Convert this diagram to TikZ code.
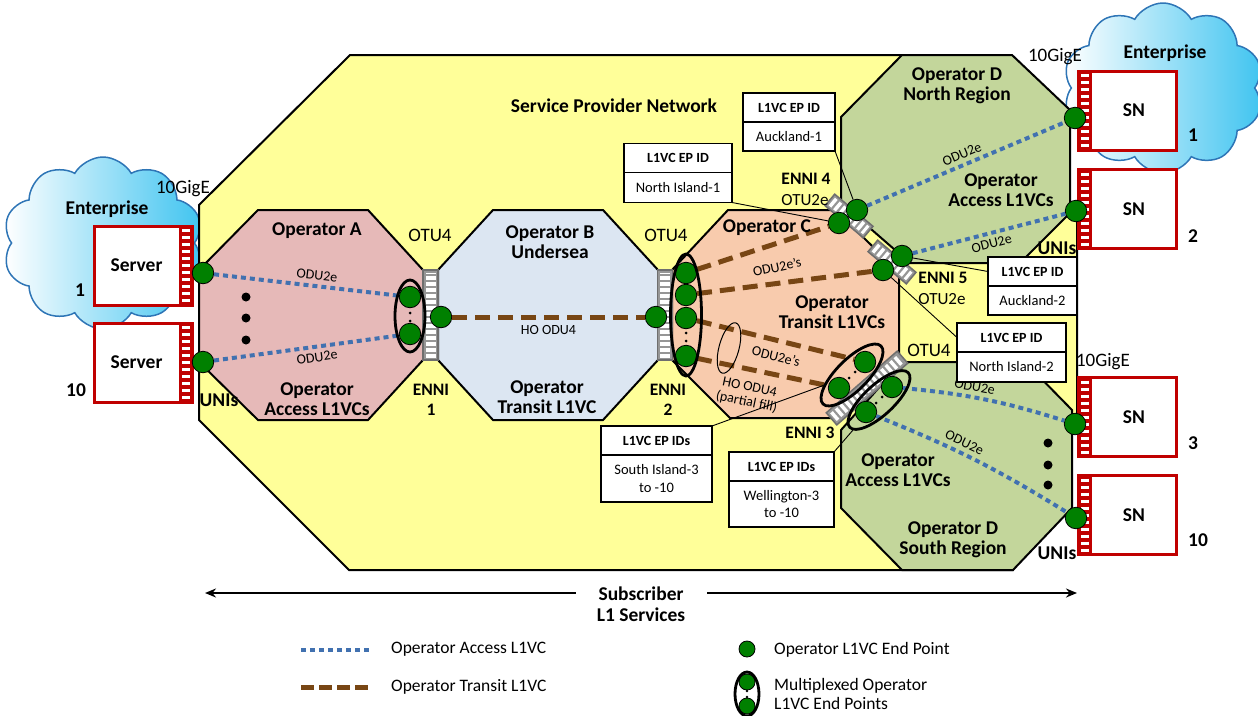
\documentclass[tikz,border=0pt]{standalone}
\usepackage{fontspec}
\setmainfont{Carlito}
\usepackage{tikz}
\usetikzlibrary{arrows.meta,shapes,positioning}
\definecolor{spyellow}{RGB}{255,255,153}
\definecolor{opapink}{RGB}{230,185,184}
\definecolor{opbblue}{RGB}{220,230,242}
\definecolor{opcpeach}{RGB}{248,203,173}
\definecolor{opdgreen}{RGB}{195,214,155}
\definecolor{epgreen}{RGB}{0,128,0}
\definecolor{accblue}{RGB}{65,113,176}
\definecolor{trbrown}{RGB}{120,70,20}
\definecolor{devred}{RGB}{192,0,0}
\definecolor{cloudblue}{RGB}{64,196,240}
\definecolor{cloudline}{RGB}{46,117,182}
\definecolor{barfill}{RGB}{150,150,150}
\definecolor{barline}{RGB}{110,110,110}

\begin{document}
\begin{tikzpicture}[x=1pt,y=1pt]
                \tikzstyle{every node}+=[inner sep=0pt]
                \tikzstyle{lbl}=[font=\fontsize{19.5}{20}\selectfont\bfseries, align=center]
                \tikzstyle{txt}=[font=\fontsize{19}{20}\selectfont]
                \tikzstyle{enni}=[font=\fontsize{17.5}{19.5}\selectfont\bfseries, align=center]
                \tikzstyle{odu}=[text=black, font=\fontsize{14}{15}\selectfont, align=center]
                \tikzstyle{idhead}=[draw, line width=1.2pt, fill=white, outer sep=0pt, minimum height=29pt, font=\fontsize{14}{15}\selectfont\bfseries]
                \tikzstyle{idbody}=[draw, line width=1.2pt, fill=white, outer sep=0pt, minimum height=29pt, font=\fontsize{14.5}{17.5}\selectfont, align=center]
                \tikzstyle{legtxt}=[font=\fontsize{17.5}{19}\selectfont, anchor=west, align=left]
                \tikzstyle{ep}=[circle, draw=black, line width=0.8pt, fill=epgreen, minimum size=21.5pt]
                \tikzstyle{access}=[accblue, line width=4pt, dash pattern=on 5pt off 4pt]
                \tikzstyle{transit}=[trbrown, line width=5pt, dash pattern=on 15pt off 8pt]
                \tikzstyle{mux}=[ellipse, draw=black, line width=2.8pt]
                \tikzstyle{region}=[draw=black, line width=2pt]
                \tikzstyle{ennibar}=[draw=barline, fill=barfill, line width=1.5pt, minimum height=15pt, outer sep=0pt]
                \tikzstyle{barstripe}=[white, line width=10pt, dash pattern=on 3.5pt off 2.5pt, shorten <=2.5pt, shorten >=2.5pt]
                \tikzstyle{devbox}=[draw=devred, line width=3pt, fill=white, minimum width=98pt, minimum height=79pt, outer sep=0pt]
                \tikzstyle{ports}=[fill=devred, minimum width=13pt, minimum height=79pt, outer sep=0pt]
                \tikzstyle{portdash}=[white, line width=8pt, dash pattern=on 3pt off 4pt, shorten <=3pt, shorten >=3pt]
                \tikzstyle{leader}=[black, line width=0.9pt]
                \tikzstyle{cloudy}=[cloud, cloud puffs=10, cloud puff arc=120, aspect=1.25, draw=cloudline, line width=1.5pt, left color=white, middle color=cloudblue, right color=cloudblue]
                \tikzstyle{subarrow}=[black, line width=2.2pt, -{Stealth[length=11pt,width=9pt]}]
                \useasboundingbox (0,0) rectangle (1258,-715);
                \node[cloudy, minimum width=200pt, minimum height=172pt] (cloudL) at (103,-243) {};
                \node[cloudy, minimum width=200pt, minimum height=170pt] (cloudR) at (1163,-88) {};
                \filldraw[region, fill=spyellow] (350,-55) -- (1000,-55) -- (1060,-110) -- (1060,-200) -- (1077,-213) -- (1077,-420) -- (1013,-570) -- (349,-570) -- (199,-420) -- (199,-205) -- cycle;
                \filldraw[region, fill=opapink] (258,-210) -- (368,-210) -- (423,-270) -- (423,-360) -- (368,-420) -- (258,-420) -- (199,-362) -- (199,-270) -- cycle;
                \filldraw[region, fill=opbblue] (493,-210) -- (603,-210) -- (658,-270) -- (658,-360) -- (603,-420) -- (493,-420) -- (438,-360) -- (438,-270) -- cycle;
                \filldraw[region, fill=opcpeach] (728,-210) -- (835,-210) -- (899,-272) -- (899,-360) -- (840,-418) -- (730,-418) -- (672,-360) -- (672,-270) -- cycle;
                \filldraw[region, fill=opdgreen] (902,-55) -- (1012,-55) -- (1070,-110) -- (1070,-213) -- (1020,-263) -- (910,-263) -- (841,-203) -- (841,-117) -- cycle;
                \filldraw[region, fill=opdgreen] (902,-362) -- (1025,-362) -- (1072,-410) -- (1072,-508) -- (1013,-570) -- (902,-570) -- (841,-508) -- (841,-430) -- cycle;
                \node[ennibar, rotate=90, minimum width=90pt] (enni1) at (430.5,-315) {};
                \draw[barstripe] (enni1.west) -- (enni1.east);
                \node[ennibar, rotate=90, minimum width=90pt] (enni2) at (665,-315) {};
                \draw[barstripe] (enni2.west) -- (enni2.east);
                \node[ennibar, rotate=-40, minimum width=50pt, minimum height=15pt] (enni4) at (849,-216) {};
                \draw[barstripe] (enni4.west) -- (enni4.east);
                \node[ennibar, rotate=-40, minimum width=50pt, minimum height=15pt] (enni5) at (892,-262) {};
                \draw[barstripe] (enni5.west) -- (enni5.east);
                \node[ennibar, rotate=41, minimum width=94pt, minimum height=16pt] (enni3) at (867,-388) {};
                \draw[barstripe] (enni3.west) -- (enni3.east);
                \node[devbox] (server1) at (143,-265.5) {};
                \node[ports, anchor=north east] (ports1) at (server1.north east) {};
                \draw[portdash] (ports1.north) -- (ports1.south);
                \node[lbl] (srv1txt) at ([xshift=-6.5pt]server1.center) {Server};
                \node[devbox] (server10) at (143,-362.5) {};
                \node[ports, anchor=north east] (ports10) at (server10.north east) {};
                \draw[portdash] (ports10.north) -- (ports10.south);
                \node[lbl] (srv10txt) at ([xshift=-6.5pt]server10.center) {Server};
                \node[devbox] (sn1) at (1127.5,-110.5) {};
                \node[ports, anchor=north west] (portsn1) at (sn1.north west) {};
                \draw[portdash] (portsn1.north) -- (portsn1.south);
                \node[lbl] (sn1txt) at ([xshift=6.5pt]sn1.center) {SN};
                \node[devbox] (sn2) at (1127.5,-209) {};
                \node[ports, anchor=north west] (portsn2) at (sn2.north west) {};
                \draw[portdash] (portsn2.north) -- (portsn2.south);
                \node[lbl] (sn2txt) at ([xshift=6.5pt]sn2.center) {SN};
                \node[devbox] (sn3) at (1127.5,-417) {};
                \node[ports, anchor=north west] (portsn3) at (sn3.north west) {};
                \draw[portdash] (portsn3.north) -- (portsn3.south);
                \node[lbl] (sn3txt) at ([xshift=6.5pt]sn3.center) {SN};
                \node[devbox] (sn10) at (1127.5,-515) {};
                \node[ports, anchor=north west] (portsn10) at (sn10.north west) {};
                \draw[portdash] (portsn10.north) -- (portsn10.south);
                \node[lbl] (sn10txt) at ([xshift=6.5pt]sn10.center) {SN};
                \node[ep] (epS1) at (203,-273) {};
                \node[ep] (epS10) at (203,-362) {};
                \node[ep] (epA1) at (410,-297) {};
                \node[ep] (epA2) at (410,-334) {};
                \node[ep] (epB1) at (441,-317) {};
                \node[ep] (epB2) at (656,-317) {};
                \node[ep] (epC1) at (686,-273) {};
                \node[ep] (epC2) at (686,-295) {};
                \node[ep] (epC3) at (686,-318) {};
                \node[ep] (epC4) at (686,-356) {};
                \node[ep] (epC4n) at (839,-223) {};
                \node[ep] (epD4n) at (857,-210) {};
                \node[ep] (epC5) at (883,-270) {};
                \node[ep] (epD5) at (902,-256) {};
                \node[ep] (epC3a) at (865,-362) {};
                \node[ep] (epC3b) at (839,-388) {};
                \node[ep] (epD3a) at (892,-387) {};
                \node[ep] (epD3b) at (866,-412) {};
                \node[ep] (epSN1) at (1075,-118) {};
                \node[ep] (epSN2) at (1076,-211) {};
                \node[ep] (epSN3) at (1075,-424) {};
                \node[ep] (epSN10) at (1076,-518) {};
                \draw[access] (epS1) -- node[odu, sloped, above=4pt, pos=0.55] (oduA1) {ODU2e} (epA1);
                \draw[access] (epS10) -- node[odu, sloped, below=4pt, pos=0.55] (oduA2) {ODU2e} (epA2);
                \draw[transit] (epB1) -- node[odu, below=6pt] (hoB) {HO ODU4} (epB2);
                \draw[transit] (epC1) -- (epC4n);
                \draw[transit] (epC2) -- (epC5);
                \draw[transit] (epC3) -- (epC3a);
                \draw[transit] (epC4) -- (epC3b);
                \node[odu, rotate=12] (oduC1) at (777,-267) {ODU2e’s};
                \node[odu, rotate=-14] (oduC2) at (776,-356) {ODU2e’s};
                \node[odu, rotate=-12] (hoC) at (748,-395) {HO ODU4\\(partial fill)};
                \draw[access] (epD4n) -- node[odu, sloped, above=4pt] (oduDn1) {ODU2e} (epSN1);
                \draw[access] (epD5) -- node[odu, sloped, below=4pt] (oduDn2) {ODU2e} (epSN2);
                \draw[access] (epD3a) to[bend left=6] node[odu, sloped, above=4pt, pos=0.42] (oduDs1) {ODU2e} (epSN3);
                \draw[access] (epD3b) to[bend left=5] node[odu, sloped, above=4pt, pos=0.42] (oduDs2) {ODU2e} (epSN10);
                \fill (246,-297) circle (4.5);
                \fill (246,-318) circle (4.5);
                \fill (246,-340) circle (4.5);
                \fill (1048,-443) circle (4.5);
                \fill (1048,-465) circle (4.5);
                \fill (1048,-485) circle (4.5);
                \fill (410,-313) circle (1.5);
                \fill (410,-321) circle (1.5);
                \fill (686,-333) circle (1.5);
                \fill (686,-341) circle (1.5);
                \fill (855,-372) circle (1.5);
                \fill (849,-378) circle (1.5);
                \fill (882,-397) circle (1.5);
                \fill (876,-403) circle (1.5);
                \node[mux, minimum width=30pt, minimum height=72pt] (muxA) at (410,-316) {};
                \node[mux, minimum width=31pt, minimum height=122pt] (muxC) at (686,-315) {};
                \node[mux, minimum width=82pt, minimum height=31pt, rotate=45] (muxC3) at (852,-375) {};
                \node[mux, minimum width=80pt, minimum height=30pt, rotate=43] (muxD3) at (879,-400) {};
                \node[mux, line width=1pt, minimum width=20pt, minimum height=52pt, rotate=-15] (bundle) at (729,-348) {};
                \node[idhead, minimum width=92pt] (idAk1) at (789,-107.5) {L1VC EP ID};
                \node[idbody, minimum width=92pt, below=0pt of idAk1] (idAk1b) {Auckland-1};
                \node[idhead, minimum width=108pt] (idNI1) at (678,-158) {L1VC EP ID};
                \node[idbody, minimum width=108pt, minimum height=30pt, below=0pt of idNI1] (idNI1b) {North Island-1};
                \node[idhead, minimum width=89pt] (idAk2) at (1032.5,-271.5) {L1VC EP ID};
                \node[idbody, minimum width=89pt, below=0pt of idAk2] (idAk2b) {Auckland-2};
                \node[idhead, minimum width=109pt] (idNI2) at (1011.5,-337.5) {L1VC EP ID};
                \node[idbody, minimum width=109pt, minimum height=30pt, below=0pt of idNI2] (idNI2b) {North Island-2};
                \node[idhead, minimum width=111pt] (idSI) at (656.5,-440.5) {L1VC EP IDs};
                \node[idbody, minimum width=111pt, minimum height=47pt, below=0pt of idSI] (idSIb) {South Island-3\\to -10};
                \node[idhead, minimum width=105pt] (idWe) at (781.5,-466.5) {L1VC EP IDs};
                \node[idbody, minimum width=105pt, minimum height=46pt, below=0pt of idWe] (idWeb) {Wellington-3\\to -10};
                \draw[leader] (idAk1b.south east) -- (epD4n);
                \draw[leader] (idNI1b.south east) -- (epC4n);
                \draw[leader] (epD5) -- (idAk2.west);
                \draw[leader] (epC5) -- (idNI2.west);
                \draw[leader] (idSI.north east) -- (muxC3);
                \draw[leader] (idWe.north east) -- (muxD3);
                \node[lbl] (spnet) at (614,-106) {Service Provider Network};
                \node[lbl] (entL) at (107,-209) {Enterprise};
                \node[txt] (gigeL) at (183,-189) {10GigE};
                \node[lbl] (numS1) at (80,-290) {1};
                \node[lbl] (numS10) at (76,-390) {10};
                \node[lbl] (unisL) at (219,-400) {UNIs};
                \node[lbl] (opA) at (317,-231) {Operator A};
                \node[lbl] (opAacc) at (317,-399) {Operator\\Access L1VCs};
                \node[txt] (otu4a) at (430,-235) {OTU4};
                \node[enni] (enni1lbl) at (431,-400) {ENNI\\1};
                \node[lbl] (opB) at (550,-242) {Operator B\\Undersea};
                \node[lbl] (opBtr) at (547,-397) {Operator\\Transit L1VC};
                \node[txt] (otu4b) at (666,-235) {OTU4};
                \node[enni] (enni2lbl) at (668,-400) {ENNI\\2};
                \node[lbl] (opC) at (767,-228) {Operator C};
                \node[lbl] (opCtr) at (832,-312) {Operator\\Transit L1VCs};
                \node[enni] (enni4lbl) at (806,-179) {ENNI 4};
                \node[txt, font=\fontsize{17}{18}\selectfont] (otu2e4) at (805,-200) {OTU2e};
                \node[enni] (enni5lbl) at (943,-278) {ENNI 5};
                \node[txt, font=\fontsize{17}{18}\selectfont] (otu2e5) at (942,-299) {OTU2e};
                \node[txt] (otu4c) at (929,-350) {OTU4};
                \node[enni] (enni3lbl) at (810,-433) {ENNI 3};
                \node[lbl] (opDn) at (957,-86) {Operator D\\North Region};
                \node[lbl] (opDnacc) at (1001,-190) {Operator\\Access L1VCs};
                \node[lbl] (opDsacc) at (898,-470) {Operator\\Access L1VCs};
                \node[lbl] (opDs) at (953,-540) {Operator D\\South Region};
                \node[lbl] (entR) at (1165,-53) {Enterprise};
                \node[txt] (gigeR1) at (1055,-57) {10GigE};
                \node[txt] (gigeR2) at (1103,-362) {10GigE};
                \node[lbl] (unisR1) at (1057,-248) {UNIs};
                \node[lbl] (unisR2) at (1057,-553) {UNIs};
                \node[lbl] (numSN1) at (1193,-135) {1};
                \node[lbl] (numSN2) at (1193,-236) {2};
                \node[lbl] (numSN3) at (1193,-443) {3};
                \node[lbl] (numSN10) at (1198,-540) {10};
                \node[lbl, font=\fontsize{19.5}{21}\selectfont\bfseries] (subscr) at (641,-604) {Subscriber\\L1 Services};
                \coordinate (arrL) at (205,-593);
                \coordinate (arrR) at (1077,-593);
                \draw[subarrow] ([xshift=-21pt]subscr.west |- arrL) -- (arrL);
                \draw[subarrow] ([xshift=22pt]subscr.east |- arrR) -- (arrR);
                \coordinate (legA1) at (301,-650);
                \coordinate (legA2) at (370,-650);
                \draw[access] (legA1) -- (legA2);
                \node[legtxt] (legAtxt) at (391,-649) {Operator Access L1VC};
                \coordinate (legT1) at (301,-687);
                \coordinate (legT2) at (370,-687);
                \draw[transit, dash pattern=on 13pt off 5pt] (legT1) -- (legT2);
                \node[legtxt] (legTtxt) at (391,-687) {Operator Transit L1VC};
                \node[ep, minimum size=16pt] (legEP) at (747,-649) {};
                \node[legtxt] (legEPtxt) at (774,-650) {Operator L1VC End Point};
                \node[ep, minimum size=16pt] (legM1) at (747,-682) {};
                \node[ep, minimum size=16pt] (legM2) at (747,-706) {};
                \fill (747,-691) circle (1.3);
                \fill (747,-697) circle (1.3);
                \node[mux, minimum width=24pt, minimum height=44pt] (legMux) at (747,-694) {};
                \node[legtxt] (legMtxt) at (774,-694) {Multiplexed Operator\\L1VC End Points};
            \end{tikzpicture}
\end{document}
